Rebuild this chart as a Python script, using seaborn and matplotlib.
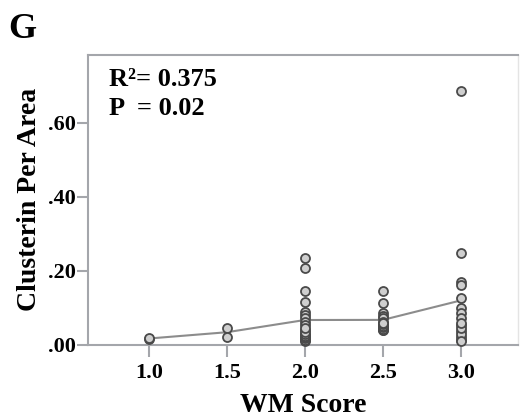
import pandas as pd
import numpy as np
import matplotlib
matplotlib.use('Agg')
import matplotlib.pyplot as plt
import seaborn as sns

# ---- data ----
score_10 = [0.015, 0.019]
score_15 = [0.046, 0.022]
score_20 = [0.234, 0.207, 0.146, 0.115, 0.090, 0.081, 0.072, 0.063, 0.054, 0.041,
            0.027, 0.015, 0.009, 0.012, 0.018, 0.022, 0.025, 0.030, 0.035, 0.045]
score_25 = [0.146, 0.114, 0.086, 0.078, 0.072, 0.063, 0.051, 0.039,
            0.040, 0.044, 0.047, 0.050, 0.055, 0.058]
score_30 = [0.685, 0.248, 0.171, 0.162, 0.126, 0.099, 0.086, 0.072, 0.054, 0.036,
            0.022, 0.014, 0.030, 0.045, 0.060, 0.010]

wm_levels = [1.0, 1.5, 2.0, 2.5, 3.0]
groups = [score_10, score_15, score_20, score_25, score_30]

x_ticks = [1.0, 1.5, 2.0, 2.5, 3.0]
x_labels = ['1.0', '1.5', '2.0', '2.5', '3.0']
y_ticks = [0.0, 0.2, 0.4, 0.6]
y_labels = ['.00', '.20', '.40', '.60']

df = pd.DataFrame({
    'wm': np.concatenate([[lv] * len(g) for lv, g in zip(wm_levels, groups)]),
    'clu': np.concatenate(groups),
})

plt.rcParams.update({
    'font.family': ['Liberation Serif', 'DejaVu Serif'],
    'font.weight': 'bold',
    'text.color': 'black',
    'axes.labelcolor': 'black',
})

fig = plt.figure(figsize=(5.2, 4.2), dpi=100)
ax = fig.add_axes([0.169, 0.179, 0.827, 0.690])

# mean line through the groups
sns.lineplot(data=df, x='wm', y='clu', estimator='mean', errorbar=None,
             color='#8c8c8c', linewidth=1.5, ax=ax, zorder=2)
sns.scatterplot(data=df, x='wm', y='clu', s=42, facecolor='#cfcfcf',
                edgecolor='#4a4a4a', linewidth=1.3, ax=ax, zorder=3, clip_on=False)

ax.set_xlim(0.61, 3.365)
ax.set_ylim(0, 0.783)
ax.set_xticks(x_ticks)
ax.set_xticklabels(x_labels, fontsize=16, fontweight='bold')
ax.set_yticks(y_ticks)
ax.set_yticklabels(y_labels, fontsize=16, fontweight='bold')

# tick marks drawn as short gray lines outside the frame
tick_col = '#a4a6ab'
ax.tick_params(axis='both', length=0, labelcolor='black')
ax.tick_params(axis='x', pad=13)
ax.tick_params(axis='y', pad=9)
ax.vlines(x_ticks, -0.043, 0, transform=ax.get_xaxis_transform(),
          color=tick_col, lw=1.5, clip_on=False, zorder=1)
ax.hlines(y_ticks, -0.025, 0, transform=ax.get_yaxis_transform(),
          color=tick_col, lw=1.5, clip_on=False, zorder=1)

for side in ['left', 'bottom', 'top']:
    ax.spines[side].set_color(tick_col)
    ax.spines[side].set_linewidth(1.5)
ax.spines['right'].set_color('#e4e4e4')
ax.spines['right'].set_linewidth(1.0)
ax.grid(False)

ax.set_xlabel('WM Score', fontsize=20, fontweight='bold', labelpad=7, color='black')
ax.set_ylabel('Clusterin Per Area', fontsize=20, fontweight='bold', labelpad=4, color='black')

ax.text(0.05, 0.955, 'R²= 0.375', transform=ax.transAxes, fontsize=19,
        fontweight='bold', va='top', ha='left', color='black')
ax.text(0.05, 0.855, 'P  = 0.02', transform=ax.transAxes, fontsize=19,
        fontweight='bold', va='top', ha='left', color='black')

fig.text(0.015, 0.909, 'G', fontsize=26, fontweight='bold', ha='left',
         va='baseline', color='black')

plt.savefig('out.png', dpi=100)
